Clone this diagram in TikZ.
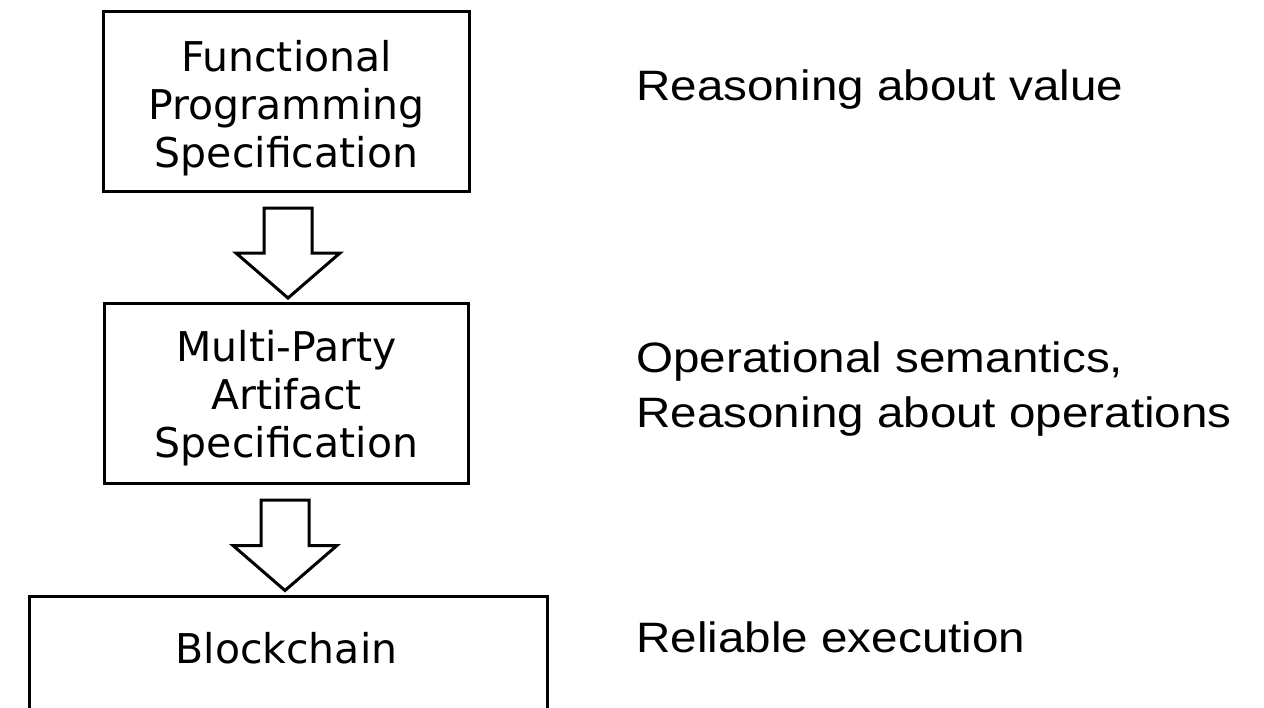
\documentclass[tikz,border=0pt]{standalone}
\usepackage{fontspec}
\usetikzlibrary{calc}
\newfontfamily\boxfont{DejaVu Sans}
\newfontfamily\notefont[FakeStretch=1.12]{Liberation Sans}

% hollow block arrow between two nodes: #1 upper node anchor, #2 lower node anchor, #3 horizontal offset
\newcommand\blockarrow[3]{%
  \draw[blockarr]
    ($(#2|-#1)+(#3-24,15)$) -- ($(#2|-#1)+(#3+24,15)$) --
    ($(#2)+(#3+24,-49)$) -- ($(#2)+(#3+52,-49)$) --
    ($(#2)+(#3,-4)$) --
    ($(#2)+(#3-52,-49)$) -- ($(#2)+(#3-24,-49)$) -- cycle;}

\tikzset{
  stage/.style={draw=black, line width=1.5pt, fill=white, inner sep=0pt},
  stagetext/.style={font=\boxfont\fontsize{20.5pt}{24pt}\selectfont, align=center, inner sep=0pt},
  note/.style={font=\notefont\fontsize{21.25pt}{27.5pt}\selectfont, align=left, inner sep=0pt, anchor=base west},
  blockarr/.style={draw=black, line width=1.5pt, fill=white, line join=miter},
}

\begin{document}
\begin{tikzpicture}[x=0.5pt, y=-0.5pt]
  \useasboundingbox (0,0) rectangle (1264,707);
  \clip (0,0) rectangle (1264,707);

  % stages
  \node[stage, minimum width=183pt, minimum height=90pt] (fp) at (286.5,101.5) {};
  \node[stagetext] (fpt) at ($(fp.center)+(0,7)$) {Functional\\Programming\\Specification};

  \node[stage, minimum width=182pt, minimum height=90pt] (mp) at (286.5,393.5) {};
  \node[stagetext] (mpt) at ($(mp.center)+(0,5)$) {Multi-Party\\Artifact\\Specification};

  \node[stage, minimum width=259pt, minimum height=150pt, anchor=north] (bc) at (288.5,594.5) {};
  \node[stagetext, anchor=base] (bct) at (286.5,663) {Blockchain};

  % refinement arrows
  \blockarrow{fp.south}{mp.north}{1.5}
  \blockarrow{mp.south}{bc.north}{-3.5}

  % descriptions (base anchor sits on the last line)
  \node[note] (n1) at (636,100) {Reasoning about value};
  \node[note] (n2) at (636,427) {Operational semantics,\\Reasoning about operations};
  \node[note] (n3) at (636,652) {Reliable execution};
\end{tikzpicture}
\end{document}
